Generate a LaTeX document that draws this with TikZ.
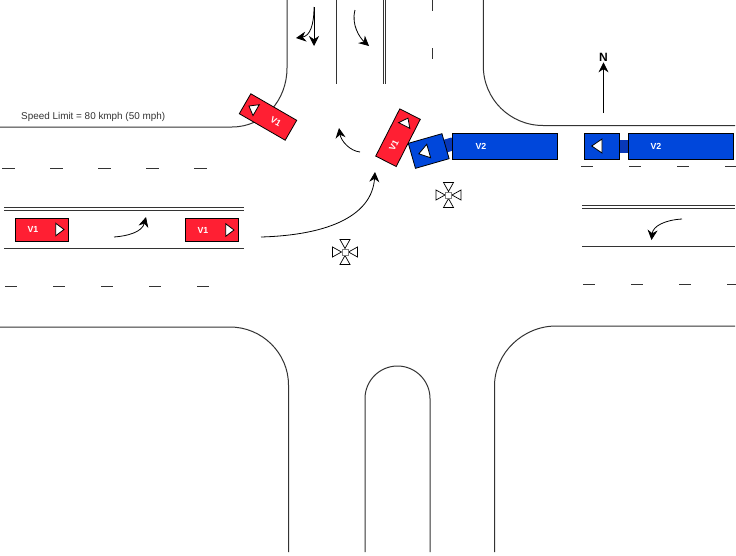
\documentclass[tikz,border=0pt]{standalone}
\usepackage{fontspec}
\setmainfont{Liberation Sans}
\usepackage{xcolor}
\definecolor{carred}{rgb}{1.0, 0.12, 0.2}
\definecolor{truckblue}{rgb}{0.0, 0.28, 0.86}
\definecolor{hitchblue}{rgb}{0.03, 0.22, 0.72}
\definecolor{roadgray}{rgb}{0.2, 0.2, 0.2}
\usetikzlibrary{positioning,arrows.meta}

\begin{document}
\begin{tikzpicture}[x=1pt, y=-1pt, flow/.style = {-{Stealth[length=10pt,width=10pt]}, line width=0.8pt},
road/.style = {draw=roadgray, line width=1pt}, lane/.style = {draw=roadgray, line width=1pt},
car/.style = {draw, fill=carred, line width=0.8pt, minimum width=53pt, minimum height=23pt, inner sep=0pt, transform shape},
cab/.style = {draw, fill=truckblue, line width=0.8pt, minimum width=35pt, minimum height=26pt, inner sep=0pt, transform shape},
trailer/.style = {draw, fill=truckblue, line width=0.8pt, minimum width=105pt, minimum height=26pt, inner sep=0pt},
hitch/.style = {fill=hitchblue, minimum width=9pt, minimum height=13pt, inner sep=0pt},
tag/.style = {text=white, font=\bfseries\fontsize{8.8}{10}\selectfont, inner sep=0pt},
pointer/.style = {draw, fill=white, line width=0.8pt, line join=miter}]

\useasboundingbox (0,0) rectangle (736,555);

% kerbs
\path[road] (287,0) -- (287,68) .. controls (287,100) and (264,127) .. (232,127) -- (0,127);
\path[road] (483.3,0) -- (483.3,66) .. controls (483.3,99) and (510,125.5) .. (543,125.5) -- (735,125.5);
\path[road] (0,327) -- (230,327) .. controls (262,327) and (288.5,353) .. (288.5,385) -- (288.5,552);
\path[road] (735,326) -- (556,326) .. controls (523,326) and (494.5,353) .. (494.5,386) -- (494.5,552);
\path[road] (365,552) -- (365,398.5) .. controls (365,380.6) and (379.6,366) .. (397.5,366) .. controls (415.4,366) and (430,380.6) .. (430,398.5) -- (430,552);

% lanes
\path[lane] (336,0) -- (336,84);
\path[lane] (383,0) -- (383,84);
\path[lane] (385.5,0) -- (385.5,84);
\path[lane] (4,207.5) -- (244,207.5);
\path[lane] (4,210) -- (244,210);
\path[lane] (4,248) -- (244,248);
\path[lane] (582,205.5) -- (735,205.5);
\path[lane] (582,208) -- (735,208);
\path[lane] (582,246.5) -- (735,246.5);

\foreach \ypos in {0,48} {
  \path[lane] (432,\ypos) -- (432,\ypos+11);
}
\foreach \xpos in {2,50,98,146,194} {
  \path[lane] (\xpos,168) -- (\xpos+13,168);
}
\foreach \xpos in {5,53,101,149,197} {
  \path[lane] (\xpos,286) -- (\xpos+12,286);
}
\foreach \xpos in {581,629,677,725} {
  \path[lane] (\xpos,166.5) -- (\xpos+12,166.5);
}
\foreach \xpos in {583,631,679,727} {
  \path[lane] (\xpos,284.5) -- (\xpos+12,284.5);
}

% travel arrows
\draw[flow] (314,7) -- (314,46);
\draw[flow] (314,7) .. controls (314,25) and (310,36) .. (296,38);
\draw[flow] (355,10) .. controls (351,25) and (360,38) .. (369,46);
\draw[flow] (360,152) .. controls (350,151) and (341,141) .. (339,128);
\draw[flow] (114,237) .. controls (128,236) and (142,232) .. (146,217);
\draw[flow] (261,237) .. controls (330,235) and (372,215) .. (375,172);
\draw[flow] (682,219) .. controls (665,220) and (653,226) .. (651.5,240);

% north
\node[font=\bfseries\fontsize{12}{14}\selectfont, inner sep=1pt] (north) at (603.5,57) {N};
\coordinate (northtail) at (603.5,113);
\draw[flow] (northtail) -- (north);

\node[anchor=base west, inner sep=0pt, text=roadgray, font=\fontsize{9.9}{12}\selectfont] (limit) at (21,119) {Speed Limit = 80 kmph (50 mph)};

% V1 path
\begin{scope}[shift = {(42,229.5)}]
\node[car] (v1a) {};
\node[tag] (v1alabel) at (-9,0) {V1};
\draw[pointer] (13.7,-6.3) -- (22,0) -- (13.7,6.3) -- cycle;
\end{scope}

\begin{scope}[shift = {(212,230)}]
\node[car] (v1b) {};
\node[tag] (v1blabel) at (-9,0) {V1};
\draw[pointer] (13.7,-6.3) -- (22,0) -- (13.7,6.3) -- cycle;
\end{scope}

\begin{scope}[shift = {(398,137.7)}, rotate = 63]
\node[car] (v1c) {};
\node[tag, transform shape] (v1clabel) at (-9,0) {V1};
\draw[pointer] (13.7,-6.3) -- (22,0) -- (13.7,6.3) -- cycle;
\end{scope}

\begin{scope}[shift = {(268,117)}, rotate = 150]
\node[car] (v1d) {};
\node[tag, transform shape, rotate=180] (v1dlabel) at (-9,0) {V1};
\draw[pointer] (13.7,-6.3) -- (22,0) -- (13.7,6.3) -- cycle;
\end{scope}

% V2 path
\node[hitch] (hitcha) at (624,146.5) {};
\node[trailer] (trailera) at (680.5,146) {};
\node[tag] (v2a) at (656,146) {V2};
\begin{scope}[shift = {(602,146)}, rotate = 180]
\node[cab] (caba) {};
\draw[pointer] (0,-7) -- (10.3,0) -- (0,7) -- cycle;
\end{scope}

\node[hitch, rotate = 16] (hitchb) at (449,145) {};
\node[trailer] (trailerb) at (504.5,146) {};
\node[tag] (v2b) at (481,146) {V2};
\begin{scope}[shift = {(428.7,151)}, rotate = 196]
\node[cab] (cabb) {};
\draw[pointer] (0,-7) -- (10.3,0) -- (0,7) -- cycle;
\end{scope}

% impact marks
\foreach \xpos/\ypos in {345/252, 448.5/195} {
  \begin{scope}[shift = {(\xpos,\ypos)}]
  \foreach \turn in {0,90,180,270} {
    \draw[pointer, line width=0.7pt, rotate = \turn] (3.5,0) -- (12.5,-5) -- (12.5,5) -- cycle;
  }
  \draw[draw=gray, fill=white, line width=0.9pt] (-3,-3) rectangle (3,3);
  \end{scope}
}
\end{tikzpicture}
\end{document}
